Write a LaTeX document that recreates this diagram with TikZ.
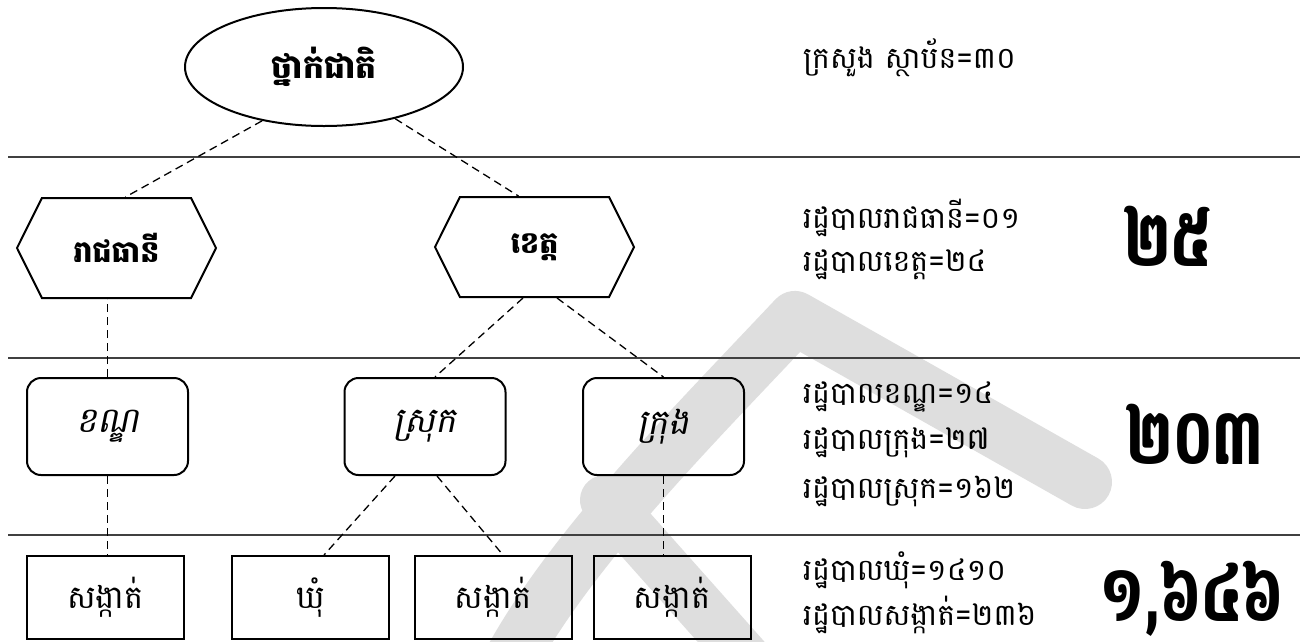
\documentclass[tikz,border=0pt]{standalone}
\usepackage{fontspec}
\newfontfamily\km[Script=Khmer]{Battambang}
\newfontfamily\kmi[Script=Khmer,FakeSlant=0.2]{Battambang}
\usetikzlibrary{shapes.geometric,shapes.symbols,calc}
\newcommand{\tallnum}[1]{\scalebox{1}[1.38]{#1}}
\begin{document}
\begin{tikzpicture}[x=1pt,y=-1pt,
  conn/.style={draw=black, line width=1.3pt, dash pattern=on 8pt off 5pt},
  sepline/.style={draw=black!75, line width=1.5pt},
  wm/.style={draw=black!13, line cap=round, line join=round},
  hexa/.style={signal, signal to=west and east, signal pointer angle=127, draw, line width=2pt,
    minimum width=199pt, minimum height=100pt, inner sep=0pt, font=\km\bfseries\fontsize{30}{34}\selectfont},
  ell/.style={ellipse, draw, line width=2pt, minimum width=278pt, minimum height=118pt, inner sep=0pt,
    font=\km\bfseries\fontsize{33}{36}\selectfont},
  rbox/.style={rectangle, rounded corners=14pt, draw, line width=2pt, minimum width=161pt, minimum height=97pt,
    inner sep=0pt, font=\kmi\fontsize{35}{38}\selectfont},
  sbox/.style={rectangle, draw, line width=2pt, minimum width=157pt, minimum height=83pt, inner sep=0pt,
    font=\km\fontsize{32}{36}\selectfont},
  info/.style={anchor=west, inner sep=0pt, font=\km\fontsize{30}{34}\selectfont},
  big/.style={inner sep=0pt, font=\km\bfseries\fontsize{56}{64}\selectfont}
]
\useasboundingbox (0,0) rectangle (1304,641);
\fill[white] (0,0) rectangle (1304,641);
% watermark
\draw[wm, line width=54pt] (500,680) .. controls (560,560) and (680,440) .. (795,318) -- (1085,482);
\draw[wm, line width=50pt] (605,500) -- (765,680);
% separators
\draw[sepline] (8,157) -- (1300,157);
\draw[sepline] (8,358) -- (1300,358);
\draw[sepline] (8,535) -- (1300,535);
% nodes
\node[ell] (E) at (324,67) {ថ្នាក់ជាតិ};
\node[hexa] (H1) at (116.5,248) {រាជធានី};
\node[hexa] (H2) at (534.5,247) {ខេត្ត};
\node[rbox] (R1) at (107.5,426.5) {ខណ្ឌ};
\node[rbox] (R2) at (425,426.5) {ស្រុក};
\node[rbox] (R3) at (663.5,426.5) {ក្រុង};
\node[sbox] (B1) at (105.5,597.5) {សង្កាត់};
\node[sbox] (B2) at (310.5,597.5) {ឃុំ};
\node[sbox] (B3) at (493,597.5) {សង្កាត់};
\node[sbox] (B4) at (672,597.5) {សង្កាត់};
% connectors
\draw[conn] (E.221) -- ($(H1.north)+(9,0)$);
\draw[conn] (E.324) -- ($(H2.north)+(-16,0)$);
\draw[conn] (R1.north) -- (R1.north |- H1.south);
\draw[conn] ($(H2.south)+(-11.5,0)$) -- ($(R2.north)+(10,0)$);
\draw[conn] ($(H2.south)+(22.5,0)$) -- (R3.north);
\draw[conn] (R1.south) -- (R1.south |- B1.north);
\draw[conn] ($(R2.south)+(-30,0)$) -- ($(B2.north)+(13.5,0)$);
\draw[conn] ($(R2.south)+(12,0)$) -- ($(B3.north)+(10,0)$);
\draw[conn] (R3.south) -- (R3.south |- B4.north);
% info texts
\node[info] (t0) at (803,58) {ក្រសួង ស្ថាប័ន=៣០};
\node[info] (t1) at (803,218) {រដ្ឋបាលរាជធានី=០១};
\node[info] (t2) at (803,265) {រដ្ឋបាលខេត្ត=២៤};
\node[info] (t3) at (803,397) {រដ្ឋបាលខណ្ឌ=១៤};
\node[info] (t4) at (803,443) {រដ្ឋបាលក្រុង=២៧};
\node[info] (t5) at (803,491) {រដ្ឋបាលស្រុក=១៦២};
\node[info] (t6) at (803,570) {រដ្ឋបាលឃុំ=១៤១០};
\node[info] (t7) at (803,615) {រដ្ឋបាលសង្កាត់=២៣៦};
\node[big] (n1) at (1168,236) {\tallnum{២៥}};
\node[big] (n2) at (1195,434) {\tallnum{២០៣}};
\node[big] (n3) at (1192,599) {\tallnum{១,៦៤៦}};
\end{tikzpicture}
\end{document}
